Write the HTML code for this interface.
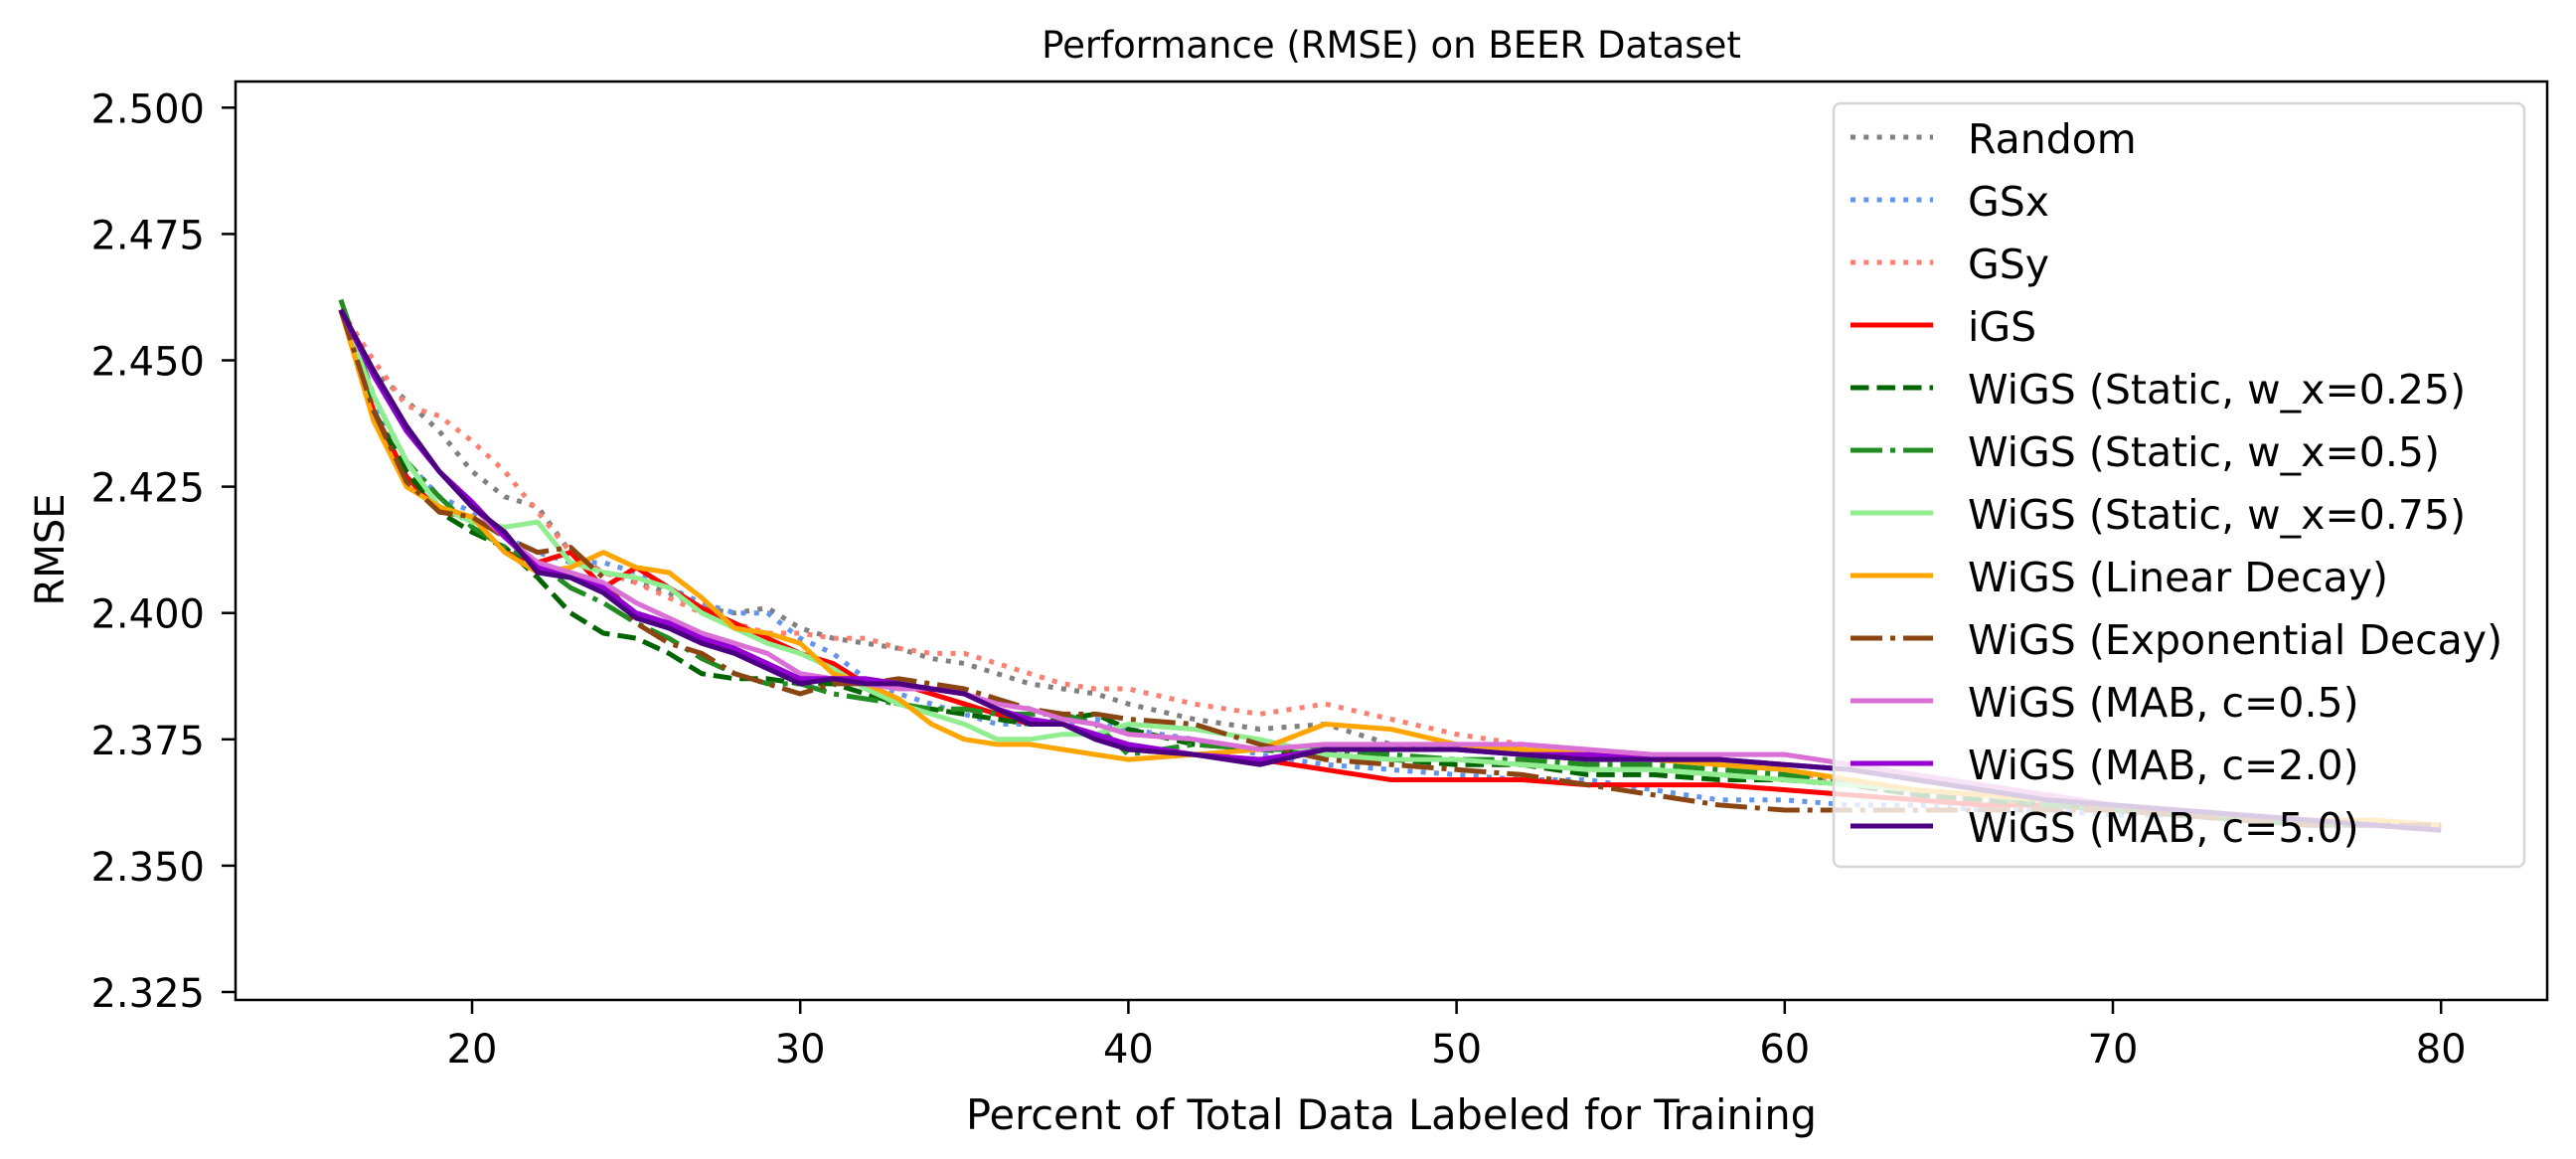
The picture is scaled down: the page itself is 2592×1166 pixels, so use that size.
<!DOCTYPE html>
<html><head><meta charset="utf-8"><style>
html,body{margin:0;padding:0;background:#fff}
svg{display:block;font-family:"DejaVu Sans","Liberation Sans",sans-serif}
</style></head><body>
<svg id="chart" width="2592" height="1166" viewBox="0 0 2592 1166" xmlns="http://www.w3.org/2000/svg">
<text x="1400" y="58" font-size="37" text-anchor="middle">Performance (RMSE) on BEER Dataset</text>
<text x="1400" y="1136" font-size="41.5" text-anchor="middle">Percent of Total Data Labeled for Training</text>
<text x="0" y="0" font-size="40" text-anchor="middle" transform="translate(64,553) rotate(-90)">RMSE</text>
<g id="plot"></g>
<rect x="237" y="82" width="2326" height="924" fill="none" stroke="#000" stroke-width="2.5"/>
<g id="ticks"></g>
<g id="legend"></g>
</svg>
<script>
const X=[16,17,18,19,20,21,22,23,24,25,26,27,28,29,30,31,32,33,34,35,36,37,38,39,40,42,44,46,48,50,52,54,56,58,60,62,64,66,68,70,72,74,76,78,80];
const xTicks=[20,30,40,50,60,70,80];
const yTicks=[2.325,2.350,2.375,2.400,2.425,2.450,2.475,2.500];
const names=["Random","GSx","GSy","iGS","WiGS (Static, w_x=0.25)","WiGS (Static, w_x=0.5)","WiGS (Static, w_x=0.75)","WiGS (Linear Decay)","WiGS (Exponential Decay)","WiGS (MAB, c=0.5)","WiGS (MAB, c=2.0)","WiGS (MAB, c=5.0)"];
const sRandom=[2.460,2.448,2.442,2.436,2.428,2.423,2.421,2.412,2.408,2.406,2.404,2.401,2.400,2.401,2.397,2.395,2.394,2.393,2.391,2.390,2.388,2.386,2.385,2.384,2.382,2.379,2.377,2.378,2.374,2.373,2.372,2.371,2.371,2.370,2.369,2.366,2.364,2.363,2.362,2.361,2.360,2.359,2.359,2.358,2.358];
const sGSx=[2.460,2.442,2.430,2.423,2.420,2.415,2.412,2.410,2.410,2.408,2.405,2.402,2.400,2.400,2.395,2.392,2.387,2.384,2.382,2.380,2.378,2.378,2.378,2.379,2.377,2.375,2.372,2.370,2.369,2.368,2.367,2.367,2.365,2.363,2.363,2.362,2.362,2.361,2.361,2.360,2.360,2.359,2.359,2.358,2.358];
const sGSy=[2.460,2.450,2.441,2.439,2.434,2.428,2.420,2.412,2.408,2.406,2.403,2.400,2.398,2.396,2.396,2.395,2.395,2.393,2.392,2.392,2.390,2.388,2.386,2.385,2.385,2.382,2.380,2.382,2.379,2.376,2.374,2.372,2.371,2.370,2.369,2.366,2.364,2.363,2.363,2.362,2.361,2.360,2.359,2.359,2.358];
const sIGS=[2.460,2.440,2.427,2.420,2.419,2.412,2.410,2.412,2.405,2.409,2.405,2.401,2.398,2.395,2.392,2.390,2.386,2.386,2.384,2.382,2.380,2.378,2.378,2.376,2.373,2.372,2.371,2.369,2.367,2.367,2.367,2.366,2.366,2.366,2.365,2.364,2.363,2.362,2.362,2.361,2.360,2.359,2.359,2.358,2.358];
const sW25=[2.460,2.440,2.428,2.420,2.416,2.413,2.407,2.400,2.396,2.395,2.392,2.388,2.387,2.387,2.386,2.386,2.384,2.382,2.381,2.380,2.379,2.378,2.379,2.380,2.377,2.374,2.373,2.372,2.371,2.370,2.370,2.368,2.368,2.367,2.367,2.366,2.364,2.363,2.362,2.361,2.360,2.359,2.359,2.358,2.358];
const sW50=[2.462,2.443,2.430,2.423,2.417,2.413,2.410,2.405,2.402,2.398,2.395,2.391,2.388,2.386,2.386,2.384,2.383,2.382,2.381,2.381,2.380,2.380,2.380,2.378,2.372,2.374,2.373,2.373,2.372,2.371,2.371,2.370,2.370,2.369,2.368,2.366,2.365,2.364,2.362,2.361,2.360,2.359,2.358,2.358,2.357];
const sW75=[2.460,2.443,2.430,2.421,2.418,2.417,2.418,2.410,2.408,2.407,2.405,2.400,2.397,2.394,2.392,2.389,2.385,2.382,2.380,2.378,2.375,2.375,2.376,2.376,2.378,2.377,2.375,2.372,2.371,2.371,2.370,2.369,2.369,2.368,2.367,2.366,2.365,2.364,2.363,2.362,2.361,2.360,2.359,2.358,2.357];
const sLin=[2.460,2.438,2.425,2.421,2.419,2.412,2.408,2.409,2.412,2.409,2.408,2.403,2.397,2.396,2.394,2.388,2.386,2.383,2.378,2.375,2.374,2.374,2.373,2.372,2.371,2.372,2.373,2.378,2.377,2.374,2.373,2.372,2.371,2.370,2.369,2.367,2.365,2.364,2.363,2.362,2.361,2.360,2.359,2.359,2.358];
const sExp=[2.460,2.440,2.426,2.420,2.419,2.415,2.412,2.413,2.407,2.398,2.394,2.392,2.388,2.386,2.384,2.386,2.386,2.387,2.386,2.385,2.383,2.381,2.380,2.380,2.379,2.378,2.374,2.371,2.370,2.369,2.368,2.366,2.364,2.362,2.361,2.361,2.361,2.361,2.361,2.361,2.360,2.359,2.358,2.358,2.358];
const sM05=[2.460,2.447,2.437,2.428,2.421,2.415,2.410,2.408,2.406,2.402,2.399,2.396,2.394,2.392,2.388,2.387,2.386,2.385,2.385,2.384,2.382,2.381,2.379,2.378,2.376,2.375,2.373,2.374,2.374,2.374,2.374,2.373,2.372,2.372,2.372,2.370,2.368,2.366,2.364,2.362,2.361,2.360,2.359,2.358,2.357];
const sM20=[2.460,2.447,2.436,2.428,2.422,2.415,2.409,2.407,2.405,2.400,2.398,2.395,2.393,2.390,2.387,2.387,2.387,2.386,2.385,2.384,2.381,2.379,2.378,2.376,2.374,2.372,2.371,2.373,2.373,2.373,2.372,2.372,2.371,2.371,2.370,2.369,2.367,2.365,2.363,2.362,2.361,2.360,2.359,2.358,2.357];
const sM50=[2.460,2.448,2.437,2.428,2.421,2.416,2.408,2.407,2.404,2.399,2.397,2.394,2.392,2.389,2.386,2.387,2.386,2.386,2.385,2.384,2.381,2.378,2.378,2.375,2.373,2.372,2.370,2.373,2.373,2.373,2.372,2.371,2.371,2.371,2.370,2.369,2.367,2.365,2.363,2.362,2.361,2.360,2.359,2.358,2.357];
const series=[sRandom,sGSx,sGSy,sIGS,sW25,sW50,sW75,sLin,sExp,sM05,sM20,sM50];
const colors=["#808080","#6495ed","#fa8072","#ff0000","#006400","#228b22","#90ee90","#ffa500","#8b4513","#da70d6","#9400d3","#4b0082"];
const dashes=["5 8.3","5 8.3","5 8.3","","18.5 8","32 8 5 8","","","32 8 5 8","","",""];
const keys=["random","gsx","gsy","igs","wigs-static-025","wigs-static-05","wigs-static-075","wigs-linear","wigs-exp","wigs-mab-05","wigs-mab-20","wigs-mab-50"];
const NS="http://www.w3.org/2000/svg";
function xs(v){return 475+(v-20)*33.02;}
function ys(v){return 998-(v-2.325)/0.025*127.1;}
const plot=document.getElementById('plot'),tk=document.getElementById('ticks'),lg=document.getElementById('legend');
series.forEach((s,i)=>{
 const p=document.createElementNS(NS,'path');
 p.setAttribute('d',s.map((v,j)=>(j?'L':'M')+xs(X[j]).toFixed(1)+' '+ys(v).toFixed(1)).join(''));
 p.setAttribute('fill','none');p.setAttribute('stroke',colors[i]);p.setAttribute('stroke-width','5');
 p.setAttribute('stroke-linejoin','round');
 if(dashes[i])p.setAttribute('stroke-dasharray',dashes[i]);
 
 
 plot.appendChild(p);
});
xTicks.forEach(t=>{
 const l=document.createElementNS(NS,'line');
 l.setAttribute('x1',xs(t));l.setAttribute('x2',xs(t));l.setAttribute('y1',1006);l.setAttribute('y2',1020);l.setAttribute('stroke','#000');l.setAttribute('stroke-width','2.5');
 
 
 tk.appendChild(l);
 const tx=document.createElementNS(NS,'text');
 tx.setAttribute('x',xs(t));tx.setAttribute('y',1069);tx.setAttribute('font-size','40');tx.setAttribute('text-anchor','middle');tx.textContent=t;
 
 
 tk.appendChild(tx);
});
yTicks.forEach(t=>{
 const l=document.createElementNS(NS,'line');
 l.setAttribute('x1',223);l.setAttribute('x2',237);l.setAttribute('y1',ys(t));l.setAttribute('y2',ys(t));l.setAttribute('stroke','#000');l.setAttribute('stroke-width','2.5');
 
 
 tk.appendChild(l);
 const tx=document.createElementNS(NS,'text');
 tx.setAttribute('x',206);tx.setAttribute('y',ys(t)+15);tx.setAttribute('font-size','40');tx.setAttribute('text-anchor','end');tx.textContent=t.toFixed(3);
 
 
 tk.appendChild(tx);
});
const bg=document.createElementNS(NS,'rect');
bg.setAttribute('x',1845);bg.setAttribute('y',104);bg.setAttribute('width',695);bg.setAttribute('height',768);bg.setAttribute('rx',7);
bg.setAttribute('fill','rgba(255,255,255,0.8)');bg.setAttribute('stroke','#d6d6d6');bg.setAttribute('stroke-width','2.5');


lg.appendChild(bg);
names.forEach((n,i)=>{
 const y=138+i*63;
 const l=document.createElementNS(NS,'line');
 l.setAttribute('x1',1862);l.setAttribute('x2',1945);l.setAttribute('y1',y);l.setAttribute('y2',y);
 l.setAttribute('stroke',colors[i]);l.setAttribute('stroke-width','5');
 if(dashes[i])l.setAttribute('stroke-dasharray',dashes[i]);
 
 
 lg.appendChild(l);
 const tx=document.createElementNS(NS,'text');
 tx.setAttribute('x',1980);tx.setAttribute('y',y+16);tx.setAttribute('font-size','41');tx.textContent=n;
 
 
 lg.appendChild(tx);
});
</script>
</body></html>
